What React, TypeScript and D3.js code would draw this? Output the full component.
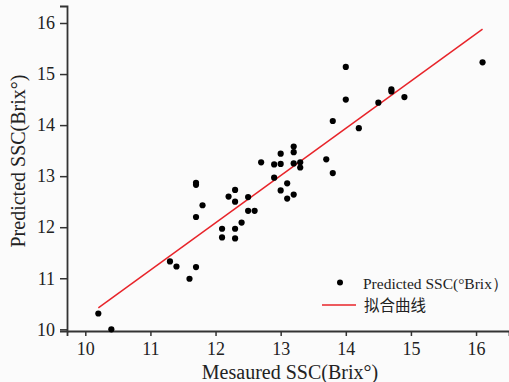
import React, { useRef, useEffect } from "react";
import * as d3 from "d3";

// measured vs predicted SSC (°Brix)
const measured = [
  10.2, 10.4, 11.3, 11.4, 11.6, 11.7, 11.7, 11.7, 11.7, 11.8, 12.1, 12.1, 12.2,
  12.3, 12.3, 12.3, 12.3, 12.4, 12.5, 12.5, 12.6, 12.7, 12.9, 12.9, 13.0, 13.0,
  13.0, 13.1, 13.1, 13.2, 13.2, 13.2, 13.2, 13.3, 13.3, 13.7, 13.8, 13.8, 14.0,
  14.0, 14.2, 14.5, 14.7, 14.7, 14.9, 16.1,
];
const predicted = [
  10.31, 10.0, 11.33, 11.23, 10.99, 11.22, 12.2, 12.87, 12.83, 12.43, 11.97, 11.8,
  12.6, 12.73, 12.5, 11.97, 11.78, 12.09, 12.59, 12.32, 12.32, 13.27, 12.97, 13.23,
  12.72, 13.24, 13.44, 12.86, 12.56, 12.64, 13.58, 13.47, 13.25, 13.27, 13.17,
  13.33, 13.06, 14.08, 15.14, 14.5, 13.94, 14.44, 14.7, 14.66, 14.55, 15.23,
];
// fitted line end points
const fitX = [10.2, 16.1];
const fitY = [10.42, 15.88];

const xTicks = [10, 11, 12, 13, 14, 15, 16];
const yTicks = [10, 11, 12, 13, 14, 15, 16];

const W = 509;
const H = 382;
const serif = "'Liberation Serif', 'Times New Roman', serif";

const App = () => {
  const svgRef = useRef<SVGSVGElement>(null);

  useEffect(() => {
    const svg = d3.select(svgRef.current);
    svg.selectAll("*").remove();

    svg.append("rect").attr("width", W).attr("height", H).attr("fill", "#fbfbfb");

    const x = d3.scaleLinear().domain([9.719, 16.506]).range([67, 509]);
    const y = d3.scaleLinear().domain([9.967, 16.333]).range([331, 6]);

    const styleAxis = (g) => {
      g.attr("font-family", serif).attr("font-size", 18);
      g.select(".domain").attr("stroke", "#333").attr("stroke-width", 1.8);
      g.selectAll(".tick line").attr("stroke", "#333").attr("stroke-width", 1.5);
      g.selectAll(".tick text")
        .style("font-family", serif)
        .style("font-size", "18px")
        .attr("fill", "#222");
    };

    svg
      .append("g")
      .attr("transform", "translate(0,331)")
      .call(
        d3
          .axisBottom(x)
          .tickValues(xTicks)
          .tickFormat(d3.format("d"))
          .tickSizeOuter(0)
          .tickSize(5)
          .tickPadding(6)
      )
      .call(styleAxis);

    svg
      .append("g")
      .attr("transform", "translate(67,0)")
      .call(
        d3
          .axisLeft(y)
          .tickValues(yTicks)
          .tickFormat(d3.format("d"))
          .tickSizeOuter(0)
          .tickSize(7)
          .tickPadding(5)
      )
      .call(styleAxis);

    // fit line
    const line = d3
      .line<number>()
      .x((d) => x(d))
      .y((_, i) => y(fitY[i]));
    svg
      .append("path")
      .datum(fitX)
      .attr("fill", "none")
      .attr("stroke", "#e8242a")
      .attr("stroke-width", 1.5)
      .attr("d", line);

    // points
    svg
      .append("g")
      .selectAll("circle")
      .data(measured)
      .join("circle")
      .attr("cx", (d) => x(d))
      .attr("cy", (_, i) => y(predicted[i]))
      .attr("r", 3.1)
      .attr("fill", "#000");

    // axis titles
    svg
      .append("text")
      .attr("x", 290)
      .attr("y", 379)
      .attr("text-anchor", "middle")
      .attr("font-family", serif)
      .attr("font-size", 20)
      .attr("fill", "#222")
      .text("Mesaured SSC(Brix°)");

    svg
      .append("text")
      .attr("transform", "translate(25,161) rotate(-90)")
      .attr("text-anchor", "middle")
      .attr("font-family", serif)
      .attr("font-size", 20)
      .attr("fill", "#222")
      .text("Predicted SSC(Brix°)");

    // legend
    const lg = svg.append("g");
    lg.append("circle").attr("cx", 340).attr("cy", 282.5).attr("r", 3).attr("fill", "#000");
    lg.append("text")
      .attr("x", 363)
      .attr("y", 288.5)
      .attr("font-family", serif)
      .attr("font-size", 15.5)
      .attr("fill", "#222")
      .text("Predicted SSC(°Brix）");
    lg.append("line")
      .attr("x1", 322)
      .attr("x2", 356)
      .attr("y1", 305)
      .attr("y2", 305)
      .attr("stroke", "#e8242a")
      .attr("stroke-width", 1.5);
    lg.append("text")
      .attr("x", 364)
      .attr("y", 310.5)
      .attr("font-family", "'Noto Sans CJK SC', sans-serif")
      .attr("font-size", 15.5)
      .attr("fill", "#222")
      .text("拟合曲线");
  }, []);

  return (
    <svg
      ref={svgRef}
      width={W}
      height={H}
      style={{ position: "absolute", left: 0, top: 0 }}
    />
  );
};

export default App;
